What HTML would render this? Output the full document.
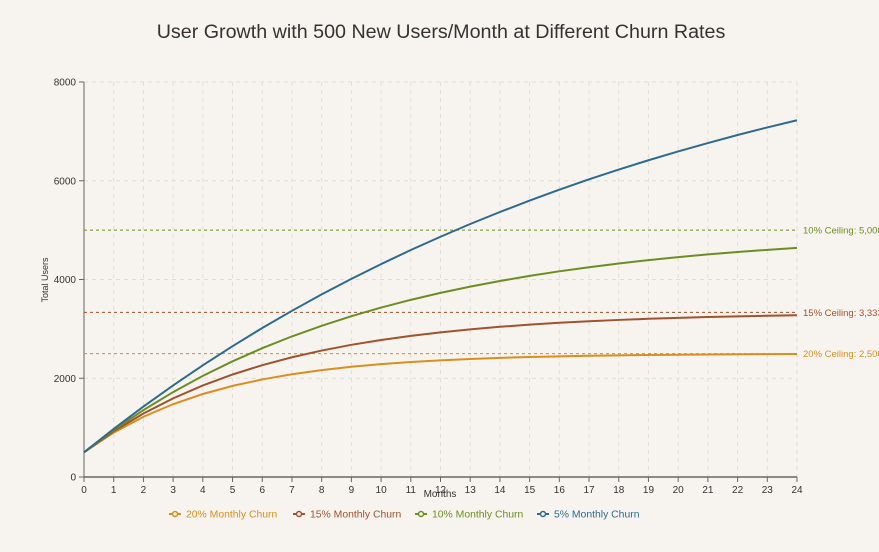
<!DOCTYPE html>
<html><head><meta charset="utf-8"><style>
body{margin:0;background:#f7f4ef;font-family:"Liberation Sans",sans-serif;}
svg{display:block}
</style></head><body>
<svg id="c" width="879" height="552" xmlns="http://www.w3.org/2000/svg">
<rect width="879" height="552" fill="#f7f4ef"/>
<text x="441" y="38" text-anchor="middle" font-size="19.7" fill="#333">User Growth with 500 New Users/Month at Different Churn Rates</text>
<g id="grid"></g><g id="axes"></g><g id="lines"></g><g id="legend"></g>
</svg>
<script>
const months = [0,1,2,3,4,5,6,7,8,9,10,11,12,13,14,15,16,17,18,19,20,21,22,23,24];
const yTicks = [0,2000,4000,6000,8000];
const churn20 = [500,900,1220,1476,1681,1845,1976,2081,2165,2232,2285,2328,2363,2390,2412,2430,2444,2455,2464,2471,2477,2482,2485,2488,2491];
const churn15 = [500,925,1286,1593,1854,2076,2265,2425,2561,2677,2775,2859,2930,2991,3042,3086,3123,3154,3181,3204,3223,3240,3254,3266,3276];
const churn10 = [500,950,1355,1720,2048,2343,2609,2848,3063,3257,3431,3588,3729,3856,3970,4073,4166,4249,4325,4392,4453,4508,4557,4601,4641];
const churn5 = [500,975,1426,1855,2262,2649,3017,3366,3698,4013,4312,4597,4866,5124,5367,5599,5819,6028,6227,6415,6594,6764,6927,7080,7226];
const ceilings = [5000,3333,2500];
const ceilingLabels = ["10% Ceiling: 5,000","15% Ceiling: 3,333","20% Ceiling: 2,500"];
const seriesNames = ["20% Monthly Churn","15% Monthly Churn","10% Monthly Churn","5% Monthly Churn"];

const NS="http://www.w3.org/2000/svg";
const X0=84,X1=797,Y0=477,Y1=82;
const x=v=>X0+(v-0)/24*(X1-X0);
const y=v=>Y0-(v/8000)*(Y0-Y1);
function mk(tag,attrs,parent,text){const e=document.createElementNS(NS,tag);for(const k in attrs)e.setAttribute(k,attrs[k]);if(text!==undefined)e.textContent=text;parent.appendChild(e);return e;}
const grid=document.getElementById('grid'),axes=document.getElementById('axes'),lines=document.getElementById('lines'),legend=document.getElementById('legend');
months.forEach(m=>{const l=mk('line',{x1:x(m),x2:x(m),y1:Y1,y2:Y0,stroke:'#e2ddd6','stroke-dasharray':'4,4'},grid);
});
yTicks.forEach(t=>{const l=mk('line',{x1:X0,x2:X1,y1:y(t),y2:y(t),stroke:'#e2ddd6','stroke-dasharray':'4,4'},grid);
});
const xa=mk('line',{x1:X0,x2:X1,y1:Y0,y2:Y0,stroke:'#666','stroke-width':1.5},axes);

const ya=mk('line',{x1:X0,x2:X0,y1:Y1,y2:Y0,stroke:'#666','stroke-width':1},axes);

months.forEach(m=>{mk('line',{x1:x(m),x2:x(m),y1:Y0,y2:Y0+5,stroke:'#666'},axes);
const t=mk('text',{x:x(m),y:Y0+16,'text-anchor':'middle','font-size':10,fill:'#333'},axes,m);
});
yTicks.forEach(v=>{mk('line',{x1:X0-5,x2:X0,y1:y(v),y2:y(v),stroke:'#666'},axes);
const t=mk('text',{x:X0-8,y:y(v)+3.5,'text-anchor':'end','font-size':10,fill:'#333'},axes,v);
});
const xt=mk('text',{x:440,y:497,'text-anchor':'middle','font-size':10,fill:'#333'},axes,'Months');

const yt=mk('text',{x:48,y:280,'text-anchor':'middle','font-size':9,fill:'#333',transform:'rotate(-90 48 280)'},axes,'Total Users');

const ceilColors=['#6b8e23','#a0522d','#d98e1f'];
ceilings.forEach((c,i)=>{const l=mk('line',{x1:X0,x2:X1,y1:y(c),y2:y(c),stroke:ceilColors[i],'stroke-dasharray':'3,3','stroke-width':1},lines);

const t=mk('text',{x:803,y:y(c)+3.5,'font-size':9.5,fill:ceilColors[i]},lines,ceilingLabels[i]);
});
const data=[churn20,churn15,churn10,churn5];
const colors=['#d98e1f','#a0522d','#6b8e23','#2e6a8e'];
data.forEach((s,i)=>{const p=mk('polyline',{points:s.map((v,j)=>x(months[j])+','+y(v)).join(' '),fill:'none',stroke:colors[i],'stroke-width':2},lines);
});
const lx=[169,293,415,537];
seriesNames.forEach((n,i)=>{const g=mk('g',{},legend);

mk('line',{x1:lx[i],x2:lx[i]+12,y1:514,y2:514,stroke:colors[i],'stroke-width':2},g);
mk('circle',{cx:lx[i]+6,cy:514,r:2.5,fill:'#f7f4ef',stroke:colors[i],'stroke-width':1.5},g);
mk('text',{x:lx[i]+17,y:517.5,'font-size':10.4,fill:colors[i]},g,n);});
</script>
</body></html>
